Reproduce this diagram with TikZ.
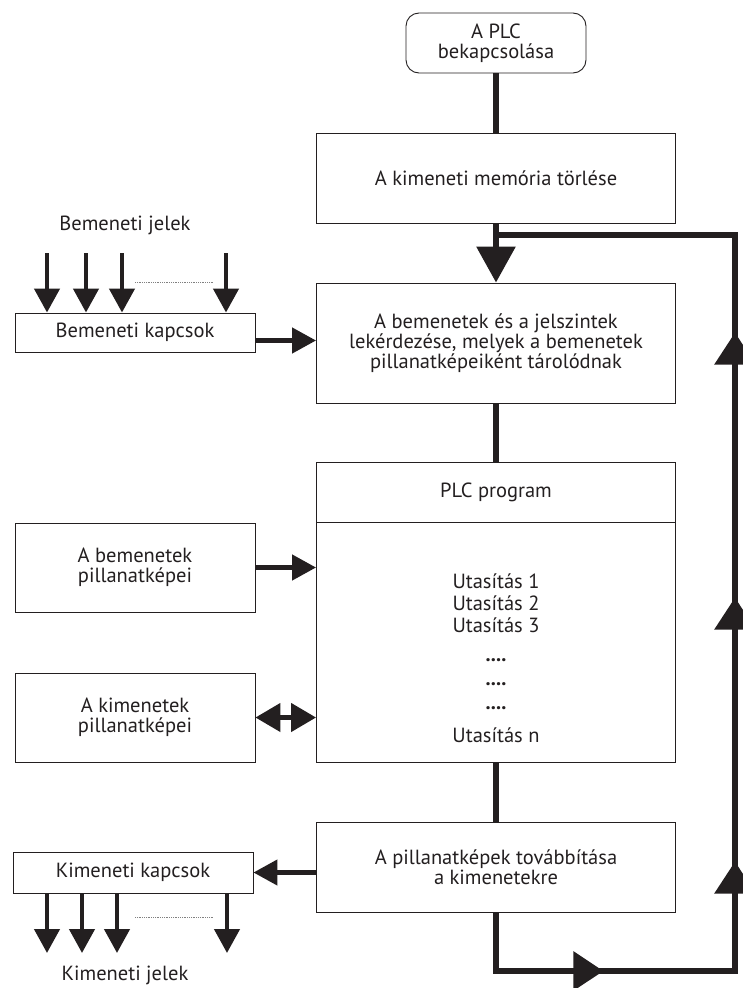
\documentclass[tikz,border=0pt]{standalone}
\usepackage{fontspec}
\setmainfont{PT Sans}
\usepackage{xcolor}
\usetikzlibrary{arrows.meta,decorations.markings}
\definecolor{ink}{HTML}{231F20}

\tikzset{
  box/.style={draw=ink, line width=0.9pt, fill=white, align=center, inner sep=0pt,
    font=\fontsize{20.5}{20}\selectfont},
  mainbox/.style={box, minimum width=359pt},
  sidebox/.style={box, minimum width=240pt},
  txt/.style={align=center, inner sep=0pt, font=\fontsize{20.5}{20}\selectfont, text=ink},
  flow/.style={draw=ink, line width=6pt},
  sig/.style={draw=ink, line width=4.5pt, -{Triangle[length=24pt,width=25pt]}},
  bigtip/.style={-{Triangle[length=36pt,width=38pt]}},
  looptip/.style={decoration={markings,
    mark=at position 166pt with {\arrow{Triangle[length=30pt,width=38pt]}},
    mark=at position 407pt with {\arrow{Triangle[length=32pt,width=40pt]}},
    mark=at position 671pt with {\arrow{Triangle[length=32pt,width=40pt]}},
    mark=at position 936pt with {\arrow{Triangle[length=32pt,width=40pt]}}},
    postaction={decorate}}
}

\begin{document}
\begin{tikzpicture}[x=1pt,y=-1pt,ink]
\useasboundingbox (0,0) rectangle (742,988);

\node[box, minimum width=180pt, minimum height=60pt, rounded corners=13pt] (start) at (496,43) {A PLC\\bekapcsolása};
\node[mainbox, minimum height=90pt] (mem) at (496,178) {A kimeneti memória törlése};
\node[mainbox, minimum height=120pt] (scan) at (496,343) {A bemenetek és a jelszintek\\lekérdezése, melyek a bemenetek\\pillanatképeiként tárolódnak};
\node[mainbox, minimum height=60pt] (prog) at (496,492) {PLC program};
\node[mainbox, minimum height=240pt] (body) at (496,642) {};
\node[mainbox, minimum height=90pt] (out) at (496,867) {A pillanatképek továbbítása\\a kimenetekre};

\foreach \n/\y/\t in {u1/581/Utasítás 1, u2/603/Utasítás 2, u3/625/Utasítás 3, d1/660/\textbf{....}, d2/684/\textbf{....}, d3/708/\textbf{....}, un/735/Utasítás n}
  \node[txt] (\n) at (496,\y) {\t};

\node[sidebox, minimum height=39pt] (kin) at (135,332.5) {Bemeneti kapcsok};
\node[sidebox, minimum height=89pt] (bpill) at (135,567.5) {A bemenetek\\pillanatképei};
\node[sidebox, minimum height=89pt] (kpill) at (135,717.5) {A kimenetek\\pillanatképei};
\node[sidebox, minimum height=41pt] (kout) at (133,872.5) {Kimeneti kapcsok};

\node[txt] (injel) at (125,225) {Bemeneti jelek};
\node[txt] (outjel) at (125,975) {Kimeneti jelek};

\draw[flow] (start) -- (mem);
\draw[flow,bigtip] (mem) -- (scan);
\draw[flow] (scan) -- (prog);
\draw[flow] (body) -- (out);

\coordinate (bl) at (496,971);
\coordinate (br) at (735,971);
\coordinate (tr) at (735,235);
\coordinate (tl) at (496,235);
\draw[flow,looptip] (out) -- (bl) -- (br) -- (tr) -- (tl);

\draw[sig] ([yshift=-8pt]kin.east) -- ([yshift=-8pt]kin.east -| scan.west);
\draw[sig] (bpill) -- (bpill -| body.west);
\draw[draw=ink, line width=4.5pt, {Triangle[length=25pt,width=28pt]}-{Triangle[length=25pt,width=28pt]}] (kpill) -- (kpill -| body.west);
\draw[sig] (kout -| out.west) -- (kout);

\foreach \x in {47,86,122,226} {
  \coordinate (in\x) at (\x,253);
  \draw[sig] (in\x) -- (in\x |- kin.north);
}
\foreach \x in {47,82,117,227} {
  \coordinate (ou\x) at (\x,953);
  \draw[sig] (ou\x |- kout.south) -- (ou\x);
}
\draw[gray, densely dotted, line width=0.8pt] (135,282) -- (213,282);
\draw[gray, densely dotted, line width=0.8pt] (135,917) -- (213,917);
\end{tikzpicture}
\end{document}
